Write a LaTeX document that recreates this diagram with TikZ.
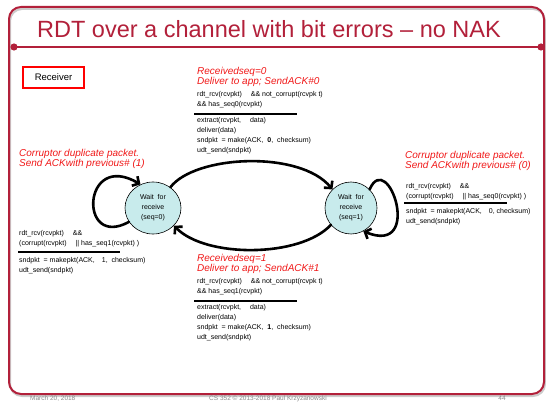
\documentclass[tikz,border=0pt]{standalone}
\usepackage{fontspec}
\setmainfont{Liberation Sans}
\usetikzlibrary{arrows.meta, shapes.geometric}
\definecolor{slidered}{HTML}{B2203A}
\definecolor{labelred}{HTML}{F01818}
\definecolor{statefill}{HTML}{C8EBEC}
\definecolor{footgray}{HTML}{8A8A8A}

\begin{document}
\begin{tikzpicture}[x=1pt,y=-1pt,
  state/.style={ellipse, draw=black, line width=0.6pt, fill=statefill,
    minimum width=56pt, minimum height=52pt, inner sep=0pt, align=center,
    font=\fontsize{7}{10}\selectfont},
  trans/.style={draw=black, line width=2.6pt, line cap=round,
    -{Straight Barb[length=5pt,width=11pt]}},
  evt/.style={font=\fontsize{10}{10}\selectfont\itshape, text=labelred,
    align=left, anchor=north west, inner sep=0pt},
  act/.style={font=\fontsize{7}{9.8}\selectfont, align=left,
    anchor=north west, inner sep=0pt},
  rulebar/.style={line width=1.3pt},
  foot/.style={font=\fontsize{6.5}{7}\selectfont, text=footgray, inner sep=0pt, anchor=north}
]
\useasboundingbox (0,0) rectangle (546,403);

% slide frame and title bar
\draw[black!20, line width=2pt, rounded corners=12pt] (10,9) rectangle (545,396);
\draw[slidered, line width=2pt, rounded corners=12pt] (9,7) rectangle (544,394);
\coordinate (tl) at (14,47);
\coordinate (tr) at (541,47);
\draw[slidered, line width=2.5pt] (tl) -- (tr);
\fill[slidered] (tl) circle (3.6pt) (tr) circle (3.6pt);
\node[font=\fontsize{23.5}{26}\selectfont, text=slidered, inner sep=0pt] (title) at (269,29)
  {RDT over a channel with bit errors – no NAK};

% receiver tag
\node[draw=red, line width=1.2pt, minimum width=61pt, minimum height=21pt,
  inner sep=0pt, font=\fontsize{9.5}{10}\selectfont] (recv) at (53.5,77.5) {Receiver};

% states
\node[state] (s0) at (153,208) {Wait\ \ for\\receive\\(seq=0)};
\node[state, minimum width=52pt] (s1) at (351,208) {Wait\ \ for\\receive\\(seq=1)};

% transitions
\draw[trans] (s0.50) .. controls (195,155) and (300,150) .. (s1.135);
\draw[trans] (s1.220) .. controls (300,258) and (205,258) .. (s0.-40);
\draw[trans] (s0.210) .. controls (78,250) and (82,150) .. (s0.118);
\draw[trans] (s1.45) .. controls (388,148) and (424,256) .. (s1.-62);

% top transition label
\node[evt] (e01) at (197,67) {Receivedseq=0\\Deliver to app; SendACK\#0};
\node[act] (c01) at (197,91.5) {rdt\_rcv(rcvpkt)\quad\ \&\& not\_corrupt(rcvpk t)\\\&\& has\_seq0(rcvpkt)};
\coordinate (r01a) at (194,114);
\coordinate (r01b) at (297,114);
\draw[rulebar] (r01a) -- (r01b);
\node[act] (a01) at (197,117.5) {extract(rcvpkt,\quad\ data)\\deliver(data)\\sndpkt\ \ = make(ACK,\ \ \textbf{0},\ \ checksum)\\udt\_send(sndpkt)};

% bottom transition label
\node[evt] (e10) at (197,254) {Receivedseq=1\\Deliver to app; SendACK\#1};
\node[act] (c10) at (197,278.5) {rdt\_rcv(rcvpkt)\quad\ \&\& not\_corrupt(rcvpk t)\\\&\& has\_seq1(rcvpkt)};
\coordinate (r10a) at (194,301);
\coordinate (r10b) at (297,301);
\draw[rulebar] (r10a) -- (r10b);
\node[act] (a10) at (197,304.5) {extract(rcvpkt,\quad\ data)\\deliver(data)\\sndpkt\ \ = make(ACK,\ \ \textbf{1},\ \ checksum)\\udt\_send(sndpkt)};

% left self-loop label
\node[evt] (e00) at (19,149) {Corruptor duplicate packet.\\Send ACKwith previous\# (1)};
\node[act] (c00) at (19,230.5) {rdt\_rcv(rcvpkt)\quad\ \&\&\\(corrupt(rcvpkt)\quad\ || has\_seq1(rcvpkt) )};
\coordinate (r00a) at (18,252);
\coordinate (r00b) at (120,252);
\draw[rulebar] (r00a) -- (r00b);
\node[act] (a00) at (19,257.5) {sndpkt\ \ = makepkt(ACK,\quad 1,\ \ checksum)\\udt\_send(sndpkt)};

% right self-loop label
\node[evt] (e11) at (405,151) {Corruptor duplicate packet.\\Send ACKwith previous\# (0)};
\node[act] (c11) at (406,183.5) {rdt\_rcv(rcvpkt)\quad\ \&\&\\(corrupt(rcvpkt)\quad\ || has\_seq0(rcvpkt) )};
\coordinate (r11a) at (404,203);
\coordinate (r11b) at (507,203);
\draw[rulebar] (r11a) -- (r11b);
\node[act] (a11) at (406,208.5) {sndpkt\ \ = makepkt(ACK,\quad 0,\ checksum)\\udt\_send(sndpkt)};

% footer
\node[foot, anchor=north west] (fdate) at (30,395.5) {March 20, 2018};
\node[foot] (fcopy) at (268,395.5) {CS 352 © 2013-2018 Paul Krzyzanowski};
\node[foot] (fpage) at (502,395.5) {44};
\end{tikzpicture}
\end{document}
